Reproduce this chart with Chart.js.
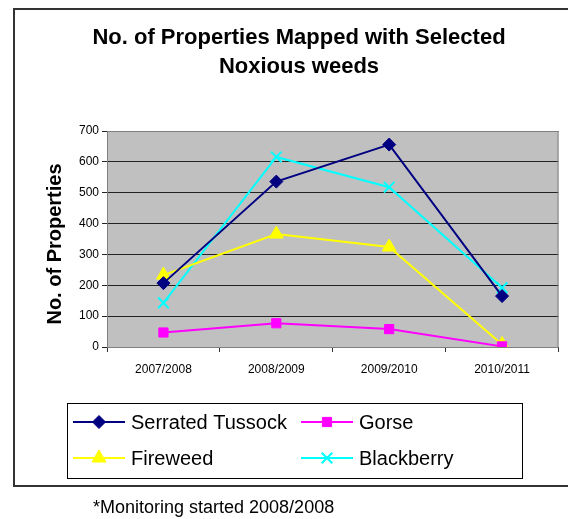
<!DOCTYPE html>
<html>
<head>
<meta charset="utf-8">
<script src="https://cdn.jsdelivr.net/npm/chart.js@4.4.1/dist/chart.umd.min.js"></script>
<style>
  html, body { margin: 0; padding: 0; background: #fff; }
  #wrap { width: 568px; height: 519px; }
</style>
</head>
<body>
<div id="wrap"><canvas id="weedChart" width="568" height="519"></canvas></div>
<script>
// chart data
const seasons = ["2007/2008", "2008/2009", "2009/2010", "2010/2011"];
const serratedTussock = [207, 536, 656, 165];
const gorse = [47, 77, 58, 2];
const fireweed = [233, 366, 324, 8];
const blackberry = [143, 616, 518, 192];
const yTicks = [0, 100, 200, 300, 400, 500, 600, 700];

const FONT = "'Liberation Sans', Arial, sans-serif";

// draws frame, title, axis title, legend box and footnote around the plot
const decorPlugin = {
    id: 'decor',
    beforeDraw(chart) {
        const { ctx, chartArea: a } = chart;
        ctx.save();
        ctx.fillStyle = '#fff';
        ctx.fillRect(0, 0, chart.width, chart.height);
        ctx.fillStyle = '#C0C0C0';
        ctx.fillRect(a.left, a.top, a.right - a.left, a.bottom - a.top);
        ctx.restore();
    },
    afterDraw(chart) {
        const { ctx, chartArea: a } = chart;
        ctx.save();

        // plot border (top / right in grey)
        ctx.strokeStyle = '#808080';
        ctx.lineWidth = 1;
        ctx.strokeRect(a.left + 0.5, a.top + 0.5, a.right - a.left - 1, a.bottom - a.top);

        // outer frame
        ctx.strokeStyle = '#333';
        ctx.lineWidth = 2;
        ctx.strokeRect(14, 9, 600, 477);

        // title
        ctx.fillStyle = '#000';
        ctx.textAlign = 'center';
        ctx.textBaseline = 'middle';
        ctx.font = 'bold 22px ' + FONT;
        ctx.fillText('No. of Properties Mapped with Selected', 299, 38);
        ctx.fillText('Noxious weeds', 299, 67);

        // y axis title
        ctx.save();
        ctx.translate(55, 244);
        ctx.rotate(-Math.PI / 2);
        ctx.font = 'bold 20px ' + FONT;
        ctx.fillText('No. of Properties', 0, 0);
        ctx.restore();

        // legend
        ctx.strokeStyle = '#000';
        ctx.lineWidth = 1;
        ctx.strokeRect(67.5, 403.5, 455, 75);
        const spots = [[73, 422], [301, 422], [73, 458], [301, 458]];
        chart.data.datasets.forEach((ds, i) => {
            const [x, y] = spots[i];
            ctx.strokeStyle = ds.borderColor;
            ctx.lineWidth = 2;
            ctx.beginPath();
            ctx.moveTo(x, y);
            ctx.lineTo(x + 52, y);
            ctx.stroke();
            ctx.fillStyle = ds.pointBackgroundColor;
            ctx.strokeStyle = ds.pointBorderColor;
            ctx.lineWidth = ds.pointBorderWidth;
            Chart.helpers.drawPoint(ctx, {
                pointStyle: ds.pointStyle,
                radius: ds.pointRadius,
                rotation: 0,
                borderWidth: ds.pointBorderWidth
            }, x + 26, y);
            ctx.fillStyle = '#000';
            ctx.textAlign = 'left';
            ctx.font = '20px ' + FONT;
            ctx.fillText(ds.label, x + 58, y + 1);
        });

        // footnote
        ctx.font = '18px ' + FONT;
        ctx.fillText('*Monitoring started 2008/2008', 93, 508);
        ctx.restore();
    }
};

function series(label, data, color, style, radius) {
    return {
        label: label,
        data: data,
        borderColor: color,
        backgroundColor: color,
        borderWidth: 2,
        pointStyle: style,
        pointRadius: radius,
        pointHoverRadius: radius,
        pointBackgroundColor: color,
        pointBorderColor: color,
        pointBorderWidth: style === 'crossRot' ? 2 : 1,
        tension: 0
    };
}

new Chart(document.getElementById('weedChart'), {
    type: 'line',
    data: {
        labels: seasons,
        datasets: [
            series('Serrated Tussock', serratedTussock, '#000080', 'rectRot', 6.5),
            series('Gorse', gorse, '#FF00FF', 'rect', 6.5),
            series('Fireweed', fireweed, '#FFFF00', 'triangle', 8),
            series('Blackberry', blackberry, '#00FFFF', 'crossRot', 7.5)
        ]
    },
    options: {
        responsive: false,
        animation: false,
        layout: { padding: { left: 60, top: 131, right: 2, bottom: 142 } },
        plugins: {
            legend: { display: false },
            tooltip: { enabled: false }
        },
        scales: {
            x: {
                offset: true,
                afterFit(scale) { scale.height = 30; },
                grid: { offset: true, drawOnChartArea: false, tickLength: 5, color: '#333' },
                border: { color: '#333' },
                ticks: { color: '#000', font: { family: FONT, size: 12 }, padding: 10, maxRotation: 0 }
            },
            y: {
                min: 0,
                max: 700,
                afterFit(scale) { scale.width = 47; },
                afterBuildTicks(scale) { scale.ticks = yTicks.map(v => ({ value: v })); },
                grid: { color: '#222', tickLength: 5 },
                border: { color: '#222' },
                ticks: { color: '#000', font: { family: FONT, size: 12 }, padding: 3 }
            }
        }
    },
    plugins: [decorPlugin]
});
</script>
</body>
</html>
